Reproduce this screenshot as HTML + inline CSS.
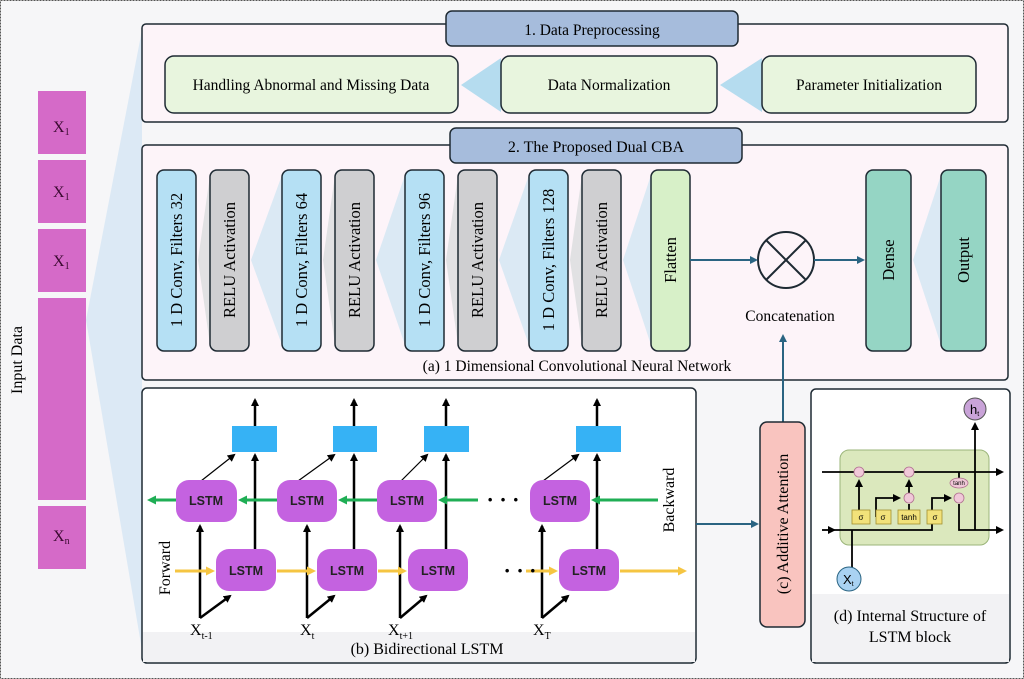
<!DOCTYPE html>
<html><head><meta charset="utf-8"><style>
html,body{margin:0;padding:0;}
body{width:1024px;height:679px;overflow:hidden;background:#f6f6f8;}
svg{display:block;font-family:"Liberation Serif",serif;}
.s{font-family:"Liberation Sans",sans-serif;font-weight:bold;}
</style></head><body>
<svg width="1024" height="679" viewBox="0 0 1024 679" xmlns="http://www.w3.org/2000/svg">
<defs>
<marker id="ab" markerWidth="8" markerHeight="8" refX="6" refY="4" orient="auto" markerUnits="userSpaceOnUse"><path d="M0,0 L8,4 L0,8 Z" fill="#000"/></marker>
<marker id="at" markerWidth="8" markerHeight="8" refX="6" refY="4" orient="auto" markerUnits="userSpaceOnUse"><path d="M0,0 L8,4 L0,8 Z" fill="#2a6482"/></marker>
<marker id="ag" markerWidth="9" markerHeight="9" refX="6" refY="4.5" orient="auto" markerUnits="userSpaceOnUse"><path d="M0,0 L9,4.5 L0,9 Z" fill="#1fae55"/></marker>
<marker id="ay" markerWidth="9" markerHeight="9" refX="6" refY="4.5" orient="auto" markerUnits="userSpaceOnUse"><path d="M0,0 L9,4.5 L0,9 Z" fill="#f5c542"/></marker>
</defs>
<rect x="0.5" y="0.5" width="1023" height="678" fill="#f6f6f8" stroke="#555" stroke-dasharray="2,1"/>
<polygon points="86,320 142,30 142,650" fill="#dce9f5"/>
<text transform="translate(22,360) rotate(-90)" font-size="16" text-anchor="middle">Input Data</text>
<rect x="38" y="91" width="48" height="63" fill="#d56ac8"/>
<rect x="38" y="160" width="48" height="63" fill="#d56ac8"/>
<rect x="38" y="229" width="48" height="63" fill="#d56ac8"/>
<rect x="38" y="298" width="48" height="202" fill="#d56ac8"/>
<rect x="38" y="506" width="48" height="63" fill="#d56ac8"/>
<g font-size="16" fill="#3a0a30"><text x="53" y="132">X<tspan font-size="10" dy="3">1</tspan></text><text x="53" y="197">X<tspan font-size="10" dy="3">1</tspan></text><text x="53" y="266">X<tspan font-size="10" dy="3">1</tspan></text><text x="53" y="541">X<tspan font-size="10" dy="3">n</tspan></text></g>

<rect x="142" y="24" width="866" height="98" rx="4" fill="#fdf4f9" stroke="#1e2a33" stroke-width="1.5"/>
<rect x="446" y="11" width="292" height="35" rx="6" fill="#a6bcdc" stroke="#1e2a33" stroke-width="1.5"/>
<text x="592" y="35" font-size="15.5" text-anchor="middle">1. Data Preprocessing</text>
<polygon points="461,85 501,58 501,112" fill="#b5dcef"/>
<polygon points="720,85 762,58 762,112" fill="#b5dcef"/>
<rect x="165" y="56" width="293" height="57" rx="9" fill="#e8f5de" stroke="#1e2a33" stroke-width="1.5"/>
<rect x="501" y="56" width="216" height="57" rx="9" fill="#e8f5de" stroke="#1e2a33" stroke-width="1.5"/>
<rect x="762" y="56" width="214" height="57" rx="9" fill="#e8f5de" stroke="#1e2a33" stroke-width="1.5"/>
<g font-size="15.5" text-anchor="middle"><text x="311" y="90">Handling Abnormal and Missing Data</text><text x="609" y="90">Data Normalization</text><text x="869" y="90">Parameter Initialization</text></g>

<rect x="142" y="145" width="866" height="235" rx="4" fill="#fdf4f9" stroke="#1e2a33" stroke-width="1.5"/>
<rect x="450" y="128" width="292" height="35" rx="6" fill="#a6bcdc" stroke="#1e2a33" stroke-width="1.5"/>
<text x="596" y="152" font-size="16" text-anchor="middle">2. The Proposed Dual CBA</text>
<g fill="#e1e1e3">
<polygon points="198,260 210,175 210,345"/><polygon points="323,260 335,175 335,345"/><polygon points="446,260 458,175 458,345"/><polygon points="570,260 582,175 582,345"/>
</g>
<g fill="#dbe9f4">
<polygon points="251,260 282,175 282,345"/><polygon points="376,260 405,175 405,345"/><polygon points="499,260 529,175 529,345"/><polygon points="623,260 651,175 651,345"/><polygon points="913,260 941,175 941,345"/>
</g>
<g stroke="#1e2a33" stroke-width="1.5">
<rect x="157" y="170" width="39" height="181" rx="7" fill="#b5e0f4"/>
<rect x="210" y="170" width="39" height="181" rx="7" fill="#cfcfd1"/>
<rect x="282" y="170" width="39" height="181" rx="7" fill="#b5e0f4"/>
<rect x="335" y="170" width="39" height="181" rx="7" fill="#cfcfd1"/>
<rect x="405" y="170" width="39" height="181" rx="7" fill="#b5e0f4"/>
<rect x="458" y="170" width="39" height="181" rx="7" fill="#cfcfd1"/>
<rect x="529" y="170" width="39" height="181" rx="7" fill="#b5e0f4"/>
<rect x="582" y="170" width="39" height="181" rx="7" fill="#cfcfd1"/>
<rect x="651" y="170" width="39" height="181" rx="7" fill="#d7f0c8"/>
<rect x="866" y="170" width="45" height="181" rx="7" fill="#95d5c4"/>
<rect x="941" y="170" width="45" height="181" rx="7" fill="#95d5c4"/>
</g>
<g font-size="16.5" text-anchor="middle">
<text transform="translate(182,260) rotate(-90)">1 D Conv, Filters 32</text>
<text transform="translate(235,260) rotate(-90)">RELU Activation</text>
<text transform="translate(307,260) rotate(-90)">1 D Conv, Filters 64</text>
<text transform="translate(360,260) rotate(-90)">RELU Activation</text>
<text transform="translate(430,260) rotate(-90)">1 D Conv, Filters 96</text>
<text transform="translate(483,260) rotate(-90)">RELU Activation</text>
<text transform="translate(554,260) rotate(-90)">1 D Conv, Filters 128</text>
<text transform="translate(607,260) rotate(-90)">RELU Activation</text>
<text transform="translate(676,260) rotate(-90)">Flatten</text>
<text transform="translate(894,260) rotate(-90)">Dense</text>
<text transform="translate(969,260) rotate(-90)">Output</text>
</g>
<g font-size="15.5" text-anchor="middle">
<text x="790" y="321">Concatenation</text>
<text x="577" y="371">(a) 1 Dimensional Convolutional Neural Network</text>
</g>
<circle cx="786" cy="260" r="28" fill="#fdf4f9" stroke="#1e2a33" stroke-width="2"/>
<line x1="766" y1="240" x2="806" y2="280" stroke="#1e2a33" stroke-width="2"/><line x1="806" y1="240" x2="766" y2="280" stroke="#1e2a33" stroke-width="2"/>
<line x1="690" y1="260" x2="756" y2="260" stroke="#2a6482" stroke-width="2" marker-end="url(#at)"/>
<line x1="814" y1="260" x2="863" y2="260" stroke="#2a6482" stroke-width="2" marker-end="url(#at)"/>
<line x1="783" y1="422" x2="783" y2="336" stroke="#2a6482" stroke-width="2" marker-end="url(#at)"/>

<rect x="142" y="388" width="554" height="275" rx="5" fill="#fff" stroke="#1e2a33" stroke-width="1.5"/>
<rect x="143" y="632" width="552" height="30" fill="#f2f2f4"/>
<line x1="696" y1="524" x2="757" y2="524" stroke="#2a6482" stroke-width="2" marker-end="url(#at)"/>
<g fill="#36b2f5"><rect x="232" y="426" width="45" height="26"/><rect x="333" y="426" width="44" height="26"/><rect x="424" y="426" width="45" height="26"/><rect x="576" y="426" width="45" height="26"/></g>
<g stroke="#000" stroke-width="2.5" fill="none">
<line x1="255" y1="549" x2="255" y2="455" marker-end="url(#ab)"/><line x1="255" y1="426" x2="255" y2="400" marker-end="url(#ab)"/>
<line x1="354" y1="549" x2="354" y2="455" marker-end="url(#ab)"/><line x1="354" y1="426" x2="354" y2="400" marker-end="url(#ab)"/>
<line x1="446" y1="549" x2="446" y2="455" marker-end="url(#ab)"/><line x1="446" y1="426" x2="446" y2="400" marker-end="url(#ab)"/>
<line x1="597" y1="549" x2="597" y2="455" marker-end="url(#ab)"/><line x1="597" y1="426" x2="597" y2="400" marker-end="url(#ab)"/>
<line x1="200" y1="618" x2="200" y2="526" marker-end="url(#ab)"/><line x1="200" y1="618" x2="230" y2="596" marker-end="url(#ab)"/>
<line x1="307" y1="618" x2="307" y2="526" marker-end="url(#ab)"/><line x1="307" y1="618" x2="334" y2="596" marker-end="url(#ab)"/>
<line x1="400" y1="618" x2="400" y2="526" marker-end="url(#ab)"/><line x1="400" y1="618" x2="426" y2="596" marker-end="url(#ab)"/>
<line x1="542" y1="618" x2="542" y2="526" marker-end="url(#ab)"/><line x1="542" y1="618" x2="568" y2="596" marker-end="url(#ab)"/>
</g>
<g stroke="#000" stroke-width="1.2">
<line x1="201" y1="481" x2="234" y2="455" marker-end="url(#ab)"/><line x1="298" y1="481" x2="334" y2="455" marker-end="url(#ab)"/><line x1="401" y1="481" x2="427" y2="455" marker-end="url(#ab)"/><line x1="543" y1="481" x2="578" y2="455" marker-end="url(#ab)"/>
</g>
<g stroke="#1fae55" stroke-width="3">
<line x1="176" y1="500" x2="150" y2="500" marker-end="url(#ag)"/><line x1="277" y1="500" x2="241" y2="500" marker-end="url(#ag)"/><line x1="377" y1="500" x2="341" y2="500" marker-end="url(#ag)"/><line x1="478" y1="500" x2="441" y2="500" marker-end="url(#ag)"/><line x1="658" y1="500" x2="594" y2="500" marker-end="url(#ag)"/>
</g>
<g stroke="#f5c542" stroke-width="3">
<line x1="175" y1="571" x2="212" y2="571" marker-end="url(#ay)"/><line x1="277" y1="571" x2="313" y2="571" marker-end="url(#ay)"/><line x1="378" y1="571" x2="404" y2="571" marker-end="url(#ay)"/><line x1="526" y1="571" x2="555" y2="571" marker-end="url(#ay)"/><line x1="620" y1="571" x2="684" y2="571" marker-end="url(#ay)"/>
</g>
<g fill="#c462e0">
<rect x="176" y="480" width="61" height="42" rx="13"/><rect x="277" y="480" width="60" height="42" rx="13"/><rect x="377" y="480" width="60" height="42" rx="13"/><rect x="530" y="480" width="60" height="42" rx="13"/>
<rect x="216" y="549" width="60" height="42" rx="13"/><rect x="317" y="549" width="60" height="42" rx="13"/><rect x="408" y="549" width="60" height="42" rx="13"/><rect x="559" y="549" width="60" height="42" rx="13"/>
</g>
<g class="s" font-size="12.5" text-anchor="middle" fill="#222">
<text x="206" y="505">LSTM</text><text x="307" y="505">LSTM</text><text x="407" y="505">LSTM</text><text x="560" y="505">LSTM</text>
<text x="246" y="575">LSTM</text><text x="347" y="575">LSTM</text><text x="438" y="575">LSTM</text><text x="589" y="575">LSTM</text>
</g>
<g font-size="22" text-anchor="middle" font-weight="bold"><text x="503" y="507">· · ·</text><text x="520" y="578">· · ·</text></g>
<g font-size="16">
<text x="190" y="635">X<tspan font-size="10" dy="4">t-1</tspan></text>
<text x="300" y="635">X<tspan font-size="10" dy="4">t</tspan></text>
<text x="388" y="635">X<tspan font-size="10" dy="4">t+1</tspan></text>
<text x="533" y="635">X<tspan font-size="10" dy="4">T</tspan></text>
<text transform="translate(170,568) rotate(-90)" text-anchor="middle">Forward</text>
<text transform="translate(674,500) rotate(-90)" text-anchor="middle">Backward</text>
<text x="427" y="654" text-anchor="middle">(b) Bidirectional  LSTM</text>
</g>

<rect x="760" y="422" width="45" height="205" rx="7" fill="#f9c4bf" stroke="#1e2a33" stroke-width="1.5"/>
<text transform="translate(788,524) rotate(-90)" font-size="16" text-anchor="middle">(c) Additive Attention</text>

<rect x="811" y="389" width="199" height="274" rx="5" fill="#fff" stroke="#1e2a33" stroke-width="1.5"/>
<rect x="812" y="594" width="197" height="68" fill="#f2f2f4"/>
<rect x="840" y="450" width="149" height="95" rx="9" fill="#dbe8bd" stroke="#9bb57a" stroke-width="1"/>
<g stroke="#000" stroke-width="1.8" fill="none">
<line x1="822" y1="472" x2="1002" y2="472" marker-end="url(#ab)"/>
<line x1="822" y1="530" x2="834" y2="530" marker-end="url(#ab)"/>
<path d="M834,530 H932 V498 H950" marker-end="url(#ab)"/>
<path d="M876,517 V498 H899" marker-end="url(#ab)"/>
<line x1="859" y1="517" x2="859" y2="481" marker-end="url(#ab)"/>
<line x1="909" y1="493" x2="909" y2="481" marker-end="url(#ab)"/>
<line x1="909" y1="517" x2="909" y2="504"/>
<line x1="959" y1="472" x2="959" y2="478"/>
<path d="M959,504 V530 H1002" marker-end="url(#ab)"/>
<line x1="975" y1="530" x2="975" y2="424" marker-end="url(#ab)"/>
<line x1="852" y1="530" x2="852" y2="568"/>
</g>
<g fill="#f0c8d8" stroke="#b07090" stroke-width="0.8">
<circle cx="859" cy="472" r="5"/><circle cx="909" cy="472" r="5"/><circle cx="909" cy="498" r="5"/><circle cx="959" cy="498" r="5"/><ellipse cx="959" cy="483" rx="9" ry="5"/>
</g>
<g fill="#f2e27a" stroke="#a09030" stroke-width="0.8">
<rect x="852" y="510" width="18" height="14"/><rect x="876" y="510" width="15" height="14"/><rect x="898" y="510" width="22" height="14"/><rect x="927" y="510" width="15" height="14"/>
</g>
<g font-family="Liberation Sans,sans-serif" font-size="8" text-anchor="middle">
<text x="861" y="520">σ</text><text x="883" y="520">σ</text><text x="909" y="520">tanh</text><text x="935" y="520">σ</text><text x="959" y="485" font-size="6">tanh</text>
</g>
<circle cx="975" cy="409" r="11" fill="#c9a3d8" stroke="#555"/>
<text x="970" y="414" font-family="Liberation Sans,sans-serif" font-size="13">h<tspan font-size="7" dy="2">t</tspan></text>
<circle cx="849" cy="579" r="12" fill="#a9d2f2" stroke="#2a6482"/>
<text x="843" y="584" font-family="Liberation Sans,sans-serif" font-size="13">X<tspan font-size="7" dy="2">t</tspan></text>
<g font-size="16" text-anchor="middle"><text x="910" y="621">(d) Internal Structure of</text><text x="910" y="642">LSTM block</text></g>
</svg>
</body></html>
